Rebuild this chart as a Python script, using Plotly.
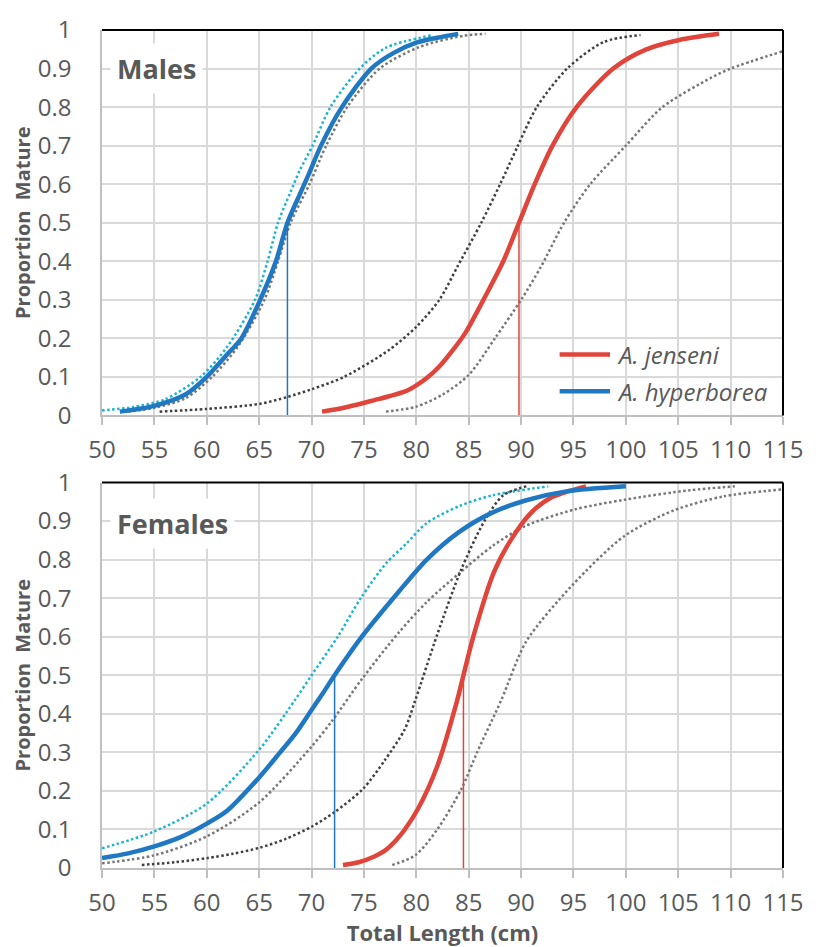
import plotly.graph_objects as go
from plotly.subplots import make_subplots

# ---- Males: maturity ogives (proportion mature vs total length, cm)
m_hyp_x = [51.7, 55, 58, 60, 62, 63.3, 65.1, 66.6, 67.7, 68.9, 69.8, 70.9, 72.9, 75.7, 77.8, 80, 82, 84]
m_hyp_y = [0.01, 0.025, 0.055, 0.1, 0.16, 0.2, 0.3, 0.4, 0.5, 0.575, 0.63, 0.7, 0.8, 0.9, 0.94, 0.967,
           0.98, 0.99]
m_hyp_hi_x = [50, 53, 56, 59.4, 62, 64.6, 65.8, 66.8, 68.0, 68.9, 70.1, 71.8, 74.6, 77.1, 81.6]
m_hyp_hi_y = [0.013, 0.022, 0.042, 0.1, 0.18, 0.3, 0.4, 0.5, 0.58, 0.637, 0.7, 0.8, 0.9, 0.954, 0.987]
m_hyp_lo_x = [52.5, 55, 58, 60.5, 63, 65.5, 66.8, 68.0, 69.8, 71.4, 73.4, 76.5, 80.3, 84.5, 86.6]
m_hyp_lo_y = [0.01, 0.02, 0.045, 0.1, 0.18, 0.3, 0.4, 0.5, 0.6, 0.7, 0.8, 0.9, 0.956, 0.985, 0.99]
m_jen_x = [71, 72.5, 74.3, 76, 77.4, 79, 80, 81, 82.2, 83.5, 84.7, 86.6, 88.3, 89.8, 91.3, 93.0, 95.3,
           98.8, 101.9, 105.1, 108.9]
m_jen_y = [0.01, 0.017, 0.028, 0.04, 0.05, 0.063, 0.078, 0.097, 0.127, 0.17, 0.215, 0.31, 0.4, 0.5, 0.6,
           0.7, 0.8, 0.9, 0.949, 0.974, 0.99]
m_jen_lo_x = [55.5, 60, 65, 67.7, 70, 73.1, 77.4, 80, 82.2, 84, 86.2, 88, 89.7, 91.5, 94.4, 97.9, 101.4]
m_jen_lo_y = [0.01, 0.017, 0.03, 0.048, 0.068, 0.1, 0.17, 0.23, 0.3, 0.39, 0.5, 0.6, 0.7, 0.8, 0.9, 0.969, 0.987]
m_jen_hi_x = [77.1, 80, 82.5, 85, 87.5, 90, 91.9, 94.1, 96.6, 100, 103.5, 108.2, 110, 115]
m_jen_hi_y = [0.01, 0.023, 0.054, 0.105, 0.2, 0.3, 0.386, 0.5, 0.6, 0.7, 0.8, 0.877, 0.9, 0.945]
m_l50 = {"jen": 89.8, "hyp": 67.7}

# ---- Females
f_hyp_x = [50, 52.5, 55, 57.5, 60, 62, 65, 67, 68.5, 70, 71, 72.2, 74.8, 78.3, 81, 84, 87.1, 90.5, 94.3, 100]
f_hyp_y = [0.026, 0.038, 0.056, 0.08, 0.115, 0.15, 0.235, 0.3, 0.35, 0.41, 0.45, 0.5, 0.6, 0.716, 0.8,
           0.87, 0.92, 0.954, 0.977, 0.99]
f_hyp_hi_x = [50, 55, 60, 65, 68.4, 70, 72.5, 74.7, 77.1, 79, 81, 84.2, 87.3, 92.6]
f_hyp_hi_y = [0.051, 0.095, 0.167, 0.307, 0.435, 0.5, 0.6, 0.7, 0.79, 0.84, 0.895, 0.94, 0.967, 0.99]
f_hyp_lo_x = [50, 55, 60, 65, 70, 72, 74.8, 78.3, 81, 84.2, 87.3, 90.4, 95.1, 99.8, 106.1, 110.4]
f_hyp_lo_y = [0.012, 0.033, 0.082, 0.17, 0.315, 0.383, 0.49, 0.61, 0.69, 0.767, 0.836, 0.887, 0.93,
              0.955, 0.98, 0.99]
f_jen_x = [73, 74.5, 76, 77, 78, 78.9, 80.15, 82, 83.9, 84.5, 85.5, 87.4, 89, 90.9, 92.8, 96.2]
f_jen_y = [0.008, 0.015, 0.03, 0.045, 0.07, 0.1, 0.153, 0.264, 0.435, 0.5, 0.606, 0.767, 0.85, 0.92, 0.96, 0.99]
f_jen_lo_x = [53.8, 57, 60.1, 62.5, 65.1, 67.5, 70, 72.2, 74.9, 77, 78.9, 79.9, 82, 84.3, 86.5, 88.3, 90.5]
f_jen_lo_y = [0.008, 0.015, 0.026, 0.037, 0.053, 0.075, 0.107, 0.145, 0.205, 0.28, 0.36, 0.435, 0.606,
              0.775, 0.9, 0.967, 0.99]
f_jen_hi_x = [77.7, 79.9, 82, 84.3, 85.8, 88.1, 90.5, 94.9, 99.9, 104.6, 109.3, 114.9]
f_jen_hi_y = [0.008, 0.033, 0.1, 0.205, 0.3, 0.435, 0.588, 0.734, 0.862, 0.928, 0.964, 0.982]
f_l50 = {"jen": 84.5, "hyp": 72.2}

panel_labels = ["Males", "Females"]
species = ["A. jenseni", "A. hyperborea"]
x_ticks = list(range(50, 120, 5))
y_ticks = [round(0.1 * i, 1) for i in range(11)]

RED = "#E0453B"
BLUE = "#1F78C1"
CYAN = "#19B4D2"
DARK = "#3F3F3F"
MID = "#767676"
TXT = "#595959"
GRID = "#D9D9D9"
FONT = "Open Sans"

fig = make_subplots(rows=2, cols=1, vertical_spacing=0.08)

panels = [
    dict(hyp=(m_hyp_x, m_hyp_y), hyp_hi=(m_hyp_hi_x, m_hyp_hi_y), hyp_lo=(m_hyp_lo_x, m_hyp_lo_y),
         jen=(m_jen_x, m_jen_y), jen_lo=(m_jen_lo_x, m_jen_lo_y), jen_hi=(m_jen_hi_x, m_jen_hi_y),
         l50=m_l50),
    dict(hyp=(f_hyp_x, f_hyp_y), hyp_hi=(f_hyp_hi_x, f_hyp_hi_y), hyp_lo=(f_hyp_lo_x, f_hyp_lo_y),
         jen=(f_jen_x, f_jen_y), jen_lo=(f_jen_lo_x, f_jen_lo_y), jen_hi=(f_jen_hi_x, f_jen_hi_y),
         l50=f_l50),
]


def dotted(xy, color, row):
    fig.add_trace(go.Scatter(x=xy[0], y=xy[1], mode="lines", showlegend=False, hoverinfo="skip",
                             line=dict(color=color, width=2.5, dash="2.5px,2.5px", shape="spline",
                                       smoothing=0.8)),
                  row=row, col=1)


for i, p in enumerate(panels):
    row = i + 1
    dotted(p["hyp_hi"], CYAN, row)
    dotted(p["hyp_lo"], MID, row)
    dotted(p["jen_lo"], DARK, row)
    dotted(p["jen_hi"], MID, row)
    fig.add_trace(go.Scatter(x=p["jen"][0], y=p["jen"][1], mode="lines", name=species[0],
                             showlegend=False,
                             line=dict(color=RED, width=4.5, shape="spline", smoothing=0.8)),
                  row=row, col=1)
    fig.add_trace(go.Scatter(x=p["hyp"][0], y=p["hyp"][1], mode="lines", name=species[1],
                             showlegend=False,
                             line=dict(color=BLUE, width=4.5, shape="spline", smoothing=0.8)),
                  row=row, col=1)
    # length at 50 % maturity
    for key, col in (("jen", RED), ("hyp", BLUE)):
        L = p["l50"][key]
        fig.add_trace(go.Scatter(x=[L, L], y=[0.0, 0.5], mode="lines", showlegend=False,
                                 hoverinfo="skip", line=dict(color=col, width=1.5)),
                      row=row, col=1)

axis_common = dict(showgrid=True, gridcolor=GRID, gridwidth=1.5, zeroline=False,
                   showline=True, linecolor="#BFBFBF", linewidth=1.5,
                   tickfont=dict(family=FONT, size=24, color=TXT))

for row in (1, 2):
    fig.update_xaxes(range=[50, 115], tickvals=x_ticks, ticks="outside", ticklen=8,
                     tickcolor="#BFBFBF", tickwidth=1.5, ticklabelstandoff=4,
                     row=row, col=1, **axis_common)
    fig.update_yaxes(range=[0, 1], tickvals=y_ticks, ticks="", ticklabelstandoff=24,
                     title=dict(text="<b>Proportion  Mature</b>", standoff=2,
                                font=dict(family=FONT, size=20, color=TXT)),
                     row=row, col=1, **axis_common)

fig.update_xaxes(title=dict(text="<b>Total Length (cm)</b>", standoff=2,
                            font=dict(family=FONT, size=22, color=TXT)), row=2, col=1)

# black frame on top and right of each panel
for ax in ("", "2"):
    for x0, y0, x1, y1 in ((0, 1, 1, 1), (1, 0, 1, 1)):
        fig.add_shape(type="line", xref=f"x{ax} domain", yref=f"y{ax} domain",
                      x0=x0, y0=y0, x1=x1, y1=y1, line=dict(color="black", width=2))

for ax, label, ly in zip(("", "2"), panel_labels, (0.9, 0.893)):
    fig.add_annotation(xref=f"x{ax} domain", yref=f"y{ax} domain", x=0.012, y=ly,
                       xanchor="left", yanchor="middle", text=f"<b>{label}</b>", showarrow=False,
                       font=dict(family=FONT, size=27, color=TXT), bgcolor="white", borderpad=6)

# key for the two species, inside the Males panel
for k, (name, col) in enumerate(zip(species, (RED, BLUE))):
    yk = 0.158 - k * 0.095
    fig.add_shape(type="line", xref="x domain", yref="y domain", x0=0.672, x1=0.746, y0=yk, y1=yk,
                  line=dict(color=col, width=4.5))
    fig.add_annotation(xref="x domain", yref="y domain", x=0.753, y=yk, xanchor="left",
                       yanchor="middle", text=name, showarrow=False,
                       font=dict(family=FONT, size=24, color=TXT, style="italic"))

fig.update_layout(
    width=816, height=947,
    margin=dict(l=102, r=23, t=20, b=77),
    paper_bgcolor="white", plot_bgcolor="white",
    showlegend=False,
)

fig.write_html("out.html")
